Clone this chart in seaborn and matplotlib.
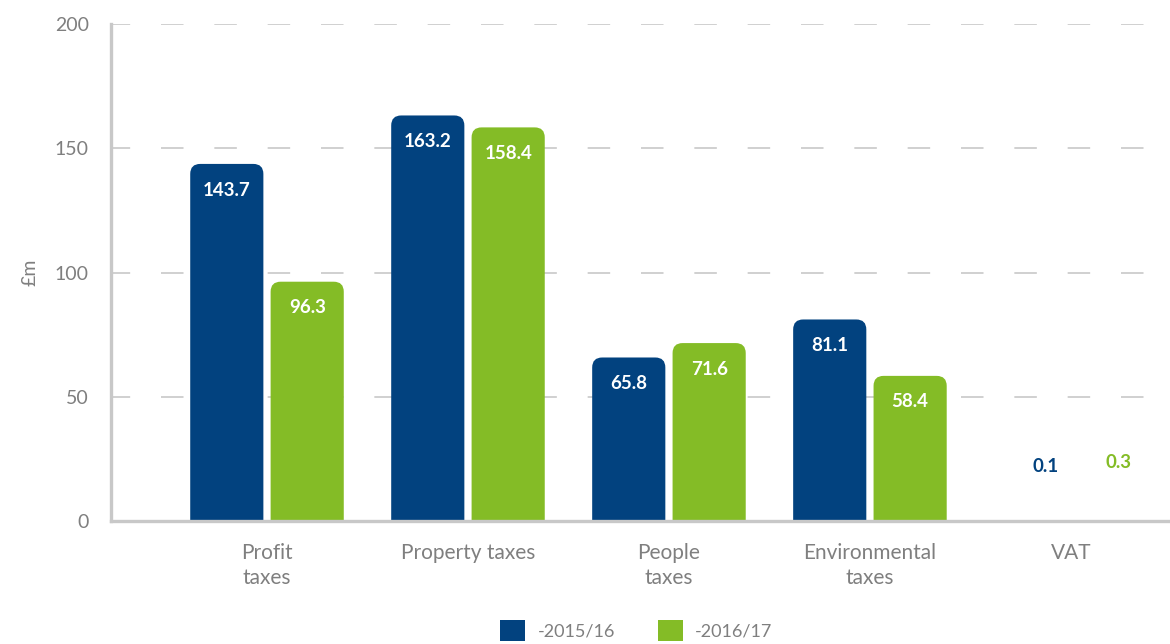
import matplotlib
matplotlib.use("Agg")
import matplotlib.pyplot as plt
import seaborn as sns
import pandas as pd
from matplotlib.patches import FancyBboxPatch, Patch
from matplotlib.ticker import FixedLocator

categories = ["Profit\ntaxes", "Property taxes", "People\ntaxes", "Environmental\ntaxes", "VAT"]
series_names = ["2015/16", "2016/17"]
values_2015 = [143.7, 163.2, 65.8, 81.1, 0.1]
values_2016 = [96.3, 158.4, 71.6, 58.4, 0.3]
legend_labels = ["-2015/16", "-2016/17"]
y_ticks = [0, 50, 100, 150, 200]

BLUE = "#02427f"
GREEN = "#84bc26"
GRAY_TXT = "#7f7f7f"
GRAY_AX = "#c8c8c8"

df = pd.DataFrame({
    "category": categories * 2,
    "series": [series_names[0]] * len(categories) + [series_names[1]] * len(categories),
    "value": values_2015 + values_2016,
})

sns.set_theme(style="white")
plt.rcParams["font.family"] = ["Lato", "DejaVu Sans"]

fig = plt.figure(figsize=(11.7, 6.44), dpi=100)
ax = fig.add_axes([0.0949, 0.191, 0.9051, 0.7717])

sns.barplot(data=df, x="category", y="value", hue="series", order=categories,
            hue_order=series_names, palette=[BLUE, GREEN], width=0.8, gap=0.09,
            ax=ax, legend=False, zorder=3)

ax.set_xlim(-0.776, 4.493)
ax.set_ylim(0, 200)

# rounded-top bars
px_per_x = 0.9051 * 1170 / (4.493 + 0.776)
px_per_y = 0.7717 * 644 / 200
r_px = 10
r_x = r_px / px_per_x
aspect = (r_px / px_per_y) / r_x
colors = [BLUE, GREEN]
small_dx = [0.075, 0.035]
for ci, cont in enumerate(ax.containers):
    vals = [values_2015, values_2016][ci]
    for bar, v in zip(cont, vals):
        x0, w, h = bar.get_x(), bar.get_width(), bar.get_height()
        bar.set_visible(False)
        if h > 1:
            fb = FancyBboxPatch((x0, -20), w, h + 20,
                                boxstyle=f"round,pad=0,rounding_size={r_x}",
                                mutation_aspect=aspect, facecolor=colors[ci],
                                edgecolor="none", zorder=3)
            ax.add_patch(fb)
        cx = x0 + w / 2
        if v > 10:
            ax.text(cx, v - 10.5, f"{v:.1f}", ha="center", va="center",
                    color="white", fontsize=13.5, fontweight="bold", zorder=5)
        else:
            ax.text(cx + small_dx[ci], v + 22 + ci * 1.2, f"{v:.1f}", ha="center", va="center",
                    color=colors[ci], fontsize=13.5, fontweight="bold", zorder=5)

# grid
ax.set_yticks(y_ticks)
ax.set_yticklabels([str(t) for t in y_ticks])
ax.yaxis.grid(True, color=GRAY_AX, linewidth=1.2, linestyle=(2, (13.5, 18.5)), zorder=0)
ax.xaxis.grid(False)

# spines
for s in ["top", "right"]:
    ax.spines[s].set_visible(False)
for s in ["left", "bottom"]:
    ax.spines[s].set_color(GRAY_AX)
    ax.spines[s].set_linewidth(2.4)
    ax.spines[s].set_zorder(6)

ax.tick_params(axis="y", length=0, pad=16, labelsize=14, labelcolor=GRAY_TXT)
ax.tick_params(axis="x", which="major", length=0, pad=16, labelsize=15, labelcolor=GRAY_TXT)
ax.xaxis.set_minor_locator(FixedLocator([0.5, 1.5, 2.5, 3.5]))
ax.tick_params(axis="x", which="minor", direction="in", length=7, width=2.4, color=GRAY_AX)
for lab in ax.get_xticklabels():
    lab.set_linespacing(1.3)

ax.set_xlabel("")
ax.set_ylabel("£m", fontsize=14, color=GRAY_TXT, labelpad=12)

handles = [Patch(facecolor=BLUE, edgecolor="none"), Patch(facecolor=GREEN, edgecolor="none")]
fig.legend(handles, legend_labels, loc="lower center", bbox_to_anchor=(0.544, -0.02),
           ncol=2, frameon=False, fontsize=13, labelcolor=GRAY_TXT,
           handlelength=1.35, handleheight=1.35, columnspacing=2.4, handletextpad=0.7)

fig.savefig("out.png", dpi=100)
